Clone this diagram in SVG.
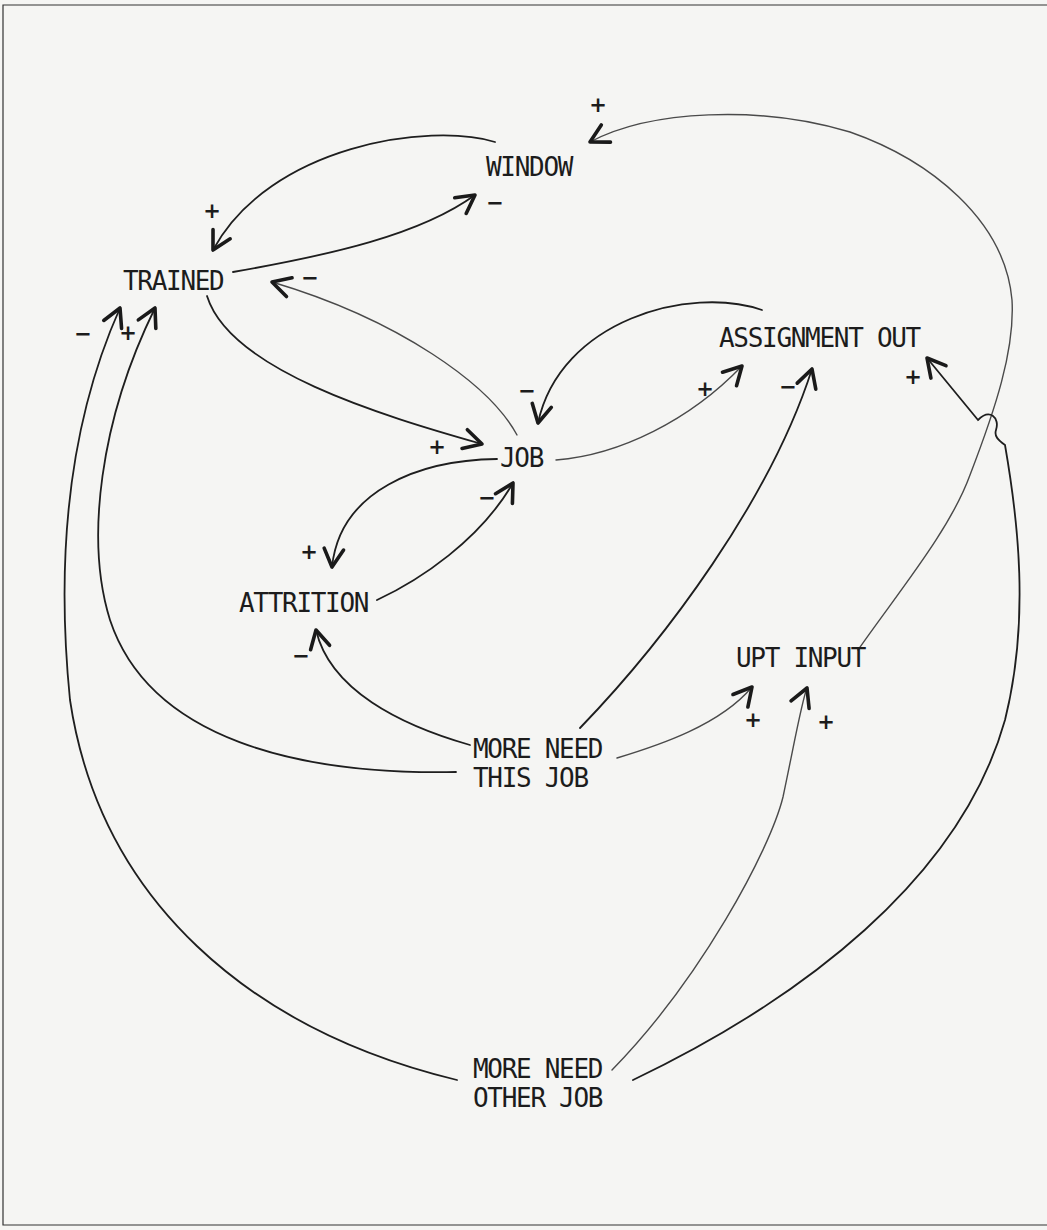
<svg xmlns="http://www.w3.org/2000/svg" width="1047" height="1230" viewBox="0 0 1047 1230">
<style>
.lbl{font-family:"DejaVu Sans Mono","Liberation Mono",monospace;font-size:26px;letter-spacing:-1.3px;fill:#1c1c1c}
.sign{font-family:"DejaVu Sans","Liberation Sans",sans-serif;font-size:21px;font-weight:bold;fill:#1c1c1c;text-anchor:middle}
.c{fill:none;stroke:#1e1e1e;stroke-width:1.8;stroke-linecap:round}
.cl{fill:none;stroke:#4a4a4a;stroke-width:1.4;stroke-linecap:round}
.frame{fill:none;stroke:#333;stroke-width:1.2}
</style>
<defs>
<marker id="arr" markerUnits="userSpaceOnUse" markerWidth="30" markerHeight="30" viewBox="-16 -10 20 20" refX="0" refY="0" orient="auto">
<path d="M-12,-6.5 L0,0 L-12,6.5" fill="none" stroke="#1a1a1a" stroke-width="2.4" stroke-linecap="round" stroke-linejoin="round"/>
</marker>
</defs>
<rect width="1047" height="1230" fill="#f5f5f3"/>
<polyline class="frame" points="1047,5 3,5 3,1225 1047,1225"/>

<g id="connectors">
<!-- WINDOW -> TRAINED (+) -->
<path class="c" d="M495,142 C430,122 270,145 213,250" marker-end="url(#arr)"/>
<!-- TRAINED -> WINDOW (-) -->
<path class="c" d="M233,272 C330,255 420,235 475,195" marker-end="url(#arr)"/>
<!-- JOB -> TRAINED (-) -->
<path class="cl" d="M517,435 C490,385 400,320 272,282" marker-end="url(#arr)"/>
<!-- TRAINED -> JOB (+) -->
<path class="c" d="M207,296 C230,370 380,415 482,444" marker-end="url(#arr)"/>
<!-- ASSIGNMENT OUT -> JOB (-) -->
<path class="c" d="M762,310 C690,285 560,320 538,423" marker-end="url(#arr)"/>
<!-- JOB -> ASSIGNMENT OUT (+) -->
<path class="cl" d="M556,460 C620,455 690,420 742,366" marker-end="url(#arr)"/>
<!-- ATTRITION -> JOB (-) -->
<path class="c" d="M377,600 C420,580 480,540 513,483" marker-end="url(#arr)"/>
<!-- JOB -> ATTRITION (+) -->
<path class="c" d="M497,459 C420,460 340,490 332,567" marker-end="url(#arr)"/>
<!-- MORE NEED THIS JOB -> ATTRITION (-) -->
<path class="c" d="M470,745 C400,725 330,690 316,630" marker-end="url(#arr)"/>
<!-- MORE NEED THIS JOB -> ASSIGNMENT OUT (-) -->
<path class="c" d="M580,728 C665,640 770,500 812,369" marker-end="url(#arr)"/>
<!-- MORE NEED THIS JOB -> UPT INPUT (+) -->
<path class="cl" d="M617,758 C660,745 720,725 752,687" marker-end="url(#arr)"/>
<!-- MORE NEED THIS JOB -> TRAINED (+) -->
<path class="c" d="M456,772 C300,775 150,740 110,620 C85,540 100,420 155,308" marker-end="url(#arr)"/>
<!-- MORE NEED OTHER JOB -> TRAINED (-) -->
<path class="c" d="M457,1080 C250,1030 100,900 70,700 C55,550 70,420 120,308" marker-end="url(#arr)"/>
<!-- MORE NEED OTHER JOB -> UPT INPUT (+) -->
<path class="cl" d="M612,1070 C700,980 770,850 783,797 C795,740 802,700 807,688" marker-end="url(#arr)"/>
<!-- UPT INPUT -> WINDOW (+) -->
<path class="cl" d="M858,650 C900,590 950,530 970,475 C995,410 1015,350 1012,300 C1005,220 930,160 850,132 C760,105 650,110 590,142" marker-end="url(#arr)"/>
<!-- MORE NEED OTHER JOB -> ASSIGNMENT OUT (+) -->
<path class="c" d="M633,1080 C800,1000 960,880 1005,720 C1030,620 1018,520 1005,445 C998,440 994,436 996,430 C1000,418 990,408 978,420 L927,358" marker-end="url(#arr)"/>

<!-- polarity signs -->
<text class="sign" x="598" y="112">+</text>
<text class="sign" x="212" y="218">+</text>
<text class="sign" x="495" y="210">−</text>
<text class="sign" x="310" y="285">−</text>
<text class="sign" x="527" y="398">−</text>
<text class="sign" x="705" y="396">+</text>
<text class="sign" x="788" y="394">−</text>
<text class="sign" x="913" y="384">+</text>
<text class="sign" x="437" y="454">+</text>
<text class="sign" x="487" y="505">−</text>
<text class="sign" x="309" y="559">+</text>
<text class="sign" x="301" y="663">−</text>
<text class="sign" x="83" y="341">−</text>
<text class="sign" x="128" y="340">+</text>
<text class="sign" x="753" y="727">+</text>
<text class="sign" x="826" y="729">+</text>
</g>

<g id="node-window"><text class="lbl" x="486" y="176">WINDOW</text></g>
<g id="node-trained"><text class="lbl" x="123" y="290">TRAINED</text></g>
<g id="node-assignment-out"><text class="lbl" x="719" y="347">ASSIGNMENT OUT</text></g>
<g id="node-job"><text class="lbl" x="500" y="467">JOB</text></g>
<g id="node-attrition"><text class="lbl" x="239" y="612">ATTRITION</text></g>
<g id="node-upt-input"><text class="lbl" x="736" y="667">UPT INPUT</text></g>
<g id="node-more-need-this-job"><text class="lbl" x="473" y="758">MORE NEED</text><text class="lbl" x="473" y="787">THIS JOB</text></g>
<g id="node-more-need-other-job"><text class="lbl" x="473" y="1078">MORE NEED</text><text class="lbl" x="473" y="1107">OTHER JOB</text></g>
</svg>
